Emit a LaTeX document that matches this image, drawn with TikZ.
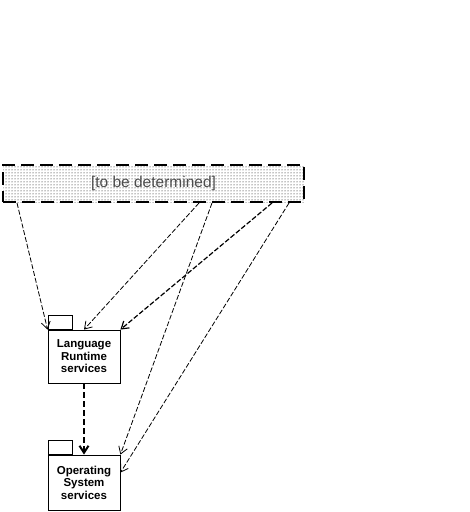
\documentclass[tikz,border=0pt]{standalone}
\usepackage{fontspec}
\setmainfont{Liberation Sans}
\usepackage{tikz}
\usetikzlibrary{calc, positioning, arrows.meta, patterns}

\begin{document}
\begin{tikzpicture}[x=1pt, y=-1pt,
    pkg/.style={draw, line width=0.8pt, rectangle, fill=white, minimum width=72pt, align=center, font=\bfseries\fontsize{11.5}{12.5}\selectfont},
    tab/.style={draw, line width=0.8pt, rectangle, minimum width=24pt, minimum height=14pt, inner sep=0pt},
    dep/.style={-{Straight Barb[length=7pt, width=9pt]}, dash pattern=on 5pt off 2pt, line width=0.8pt}]
    \useasboundingbox (0,0) rectangle (470,512);

    % Nodes
    \node[draw, rectangle, dash pattern=on 13pt off 6pt, line width=2pt, pattern=dots, pattern color=black,
          minimum width=301pt, minimum height=37pt, font=\fontsize{15.5}{17}\selectfont, text=black!70] (TBD) at (153.5,183.5) {[to be determined]};

    \node[pkg, minimum height=53pt] (Lang) at (84,356.5) {Language\\Runtime\\services};
    \node[tab, anchor=south west] (LangTab) at (Lang.north west) {};

    \node[pkg, minimum height=55pt] (OS) at (84,482.5) {Operating\\System\\services};
    \node[tab, anchor=south west] (OSTab) at (OS.north west) {};

    % Start and end points on the boxes
    \coordinate (s1) at ($(TBD.south west)+(15,0)$);
    \coordinate (s2) at ($(TBD.south west)+(197,0)$);
    \coordinate (s3) at ($(TBD.south west)+(210,0)$);
    \coordinate (s4) at ($(TBD.south west)+(270,0)$);
    \coordinate (s5) at ($(TBD.south west)+(287,0)$);
    \coordinate (OSside) at ($(OS.north east)+(0,18)$);

    % Arrows (dependencies)
    \draw[dep] (s1) -- (Lang.north west);
    \draw[dep] (s2) -- (Lang.north);
    \draw[dep, line width=1.2pt] (s4) -- (Lang.north east);
    \draw[dep] (s3) -- (OS.north east);
    \draw[dep] (s5) -- (OSside);
    \draw[dep, line width=2pt, dash pattern=on 6pt off 3pt] (Lang) -- (OS);

\end{tikzpicture}
\end{document}
